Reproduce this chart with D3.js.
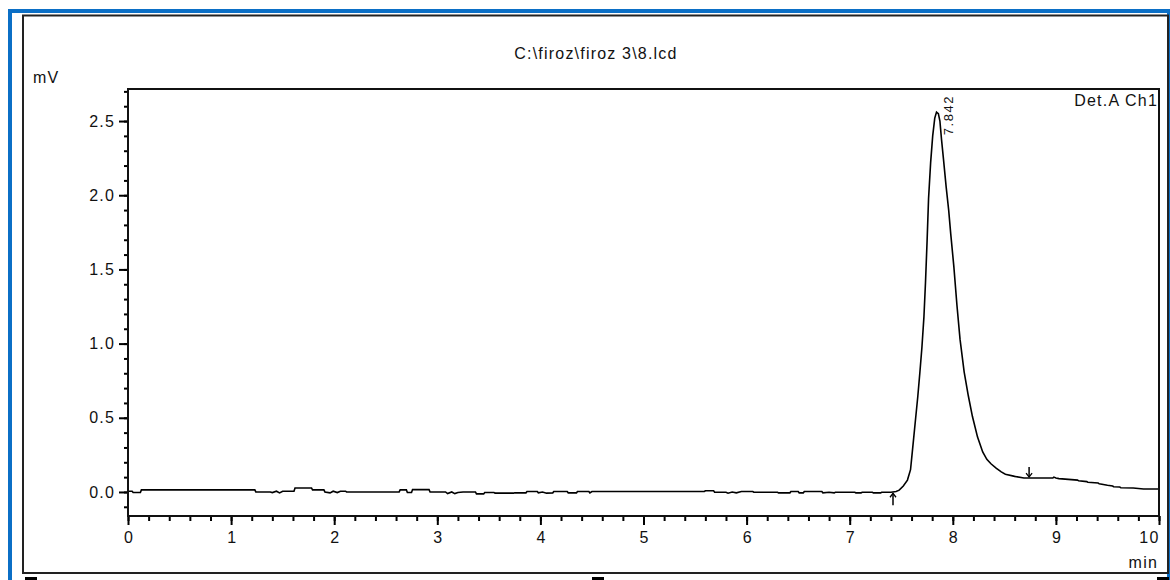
<!DOCTYPE html>
<html>
<head>
<meta charset="utf-8">
<script src="https://cdn.jsdelivr.net/npm/d3@7"></script>
<style>
  body { margin: 0; background: #fff; }
  text { font-family: "Liberation Sans", Arial, sans-serif; fill: #111; }
</style>
</head>
<body>
<script>

// chromatogram trace, time in min, signal in mV
var times = [
    0.00, 0.04, 0.05, 0.12, 0.13, 1.23, 1.24, 1.38, 1.40, 1.44, 1.47, 1.50, 1.61, 1.62, 1.78, 1.79,
    1.90, 1.91, 1.96, 1.99, 2.03, 2.06, 2.11, 2.12, 2.63, 2.64, 2.70, 2.71, 2.75, 2.76, 2.92, 2.93,
    3.08, 3.10, 3.14, 3.17, 3.20, 3.25, 3.37, 3.38, 3.45, 3.46, 3.55, 3.56, 3.74, 3.75, 3.86, 3.87,
    3.97, 3.98, 4.02, 4.06, 4.12, 4.13, 4.26, 4.27, 4.35, 4.36, 4.47, 4.48, 4.50, 5.59, 5.60, 5.68,
    5.69, 5.80, 5.82, 5.86, 5.90, 5.95, 6.06, 6.07, 6.30, 6.31, 6.42, 6.43, 6.50, 6.51, 6.55, 6.56,
    6.73, 6.74, 6.80, 6.85, 6.86, 7.05, 7.06, 7.11, 7.12, 7.22, 7.23, 7.30, 7.31, 7.40, 7.45, 7.48,
    7.52, 7.56, 7.59, 7.60, 7.62, 7.64, 7.66, 7.68, 7.70, 7.72, 7.735, 7.75, 7.765, 7.785, 7.805, 7.825,
    7.842, 7.86, 7.875, 7.89, 7.91, 7.935, 7.96, 7.98, 8.01, 8.04, 8.07, 8.11, 8.15, 8.19, 8.24, 8.29,
    8.33, 8.37, 8.42, 8.47, 8.51, 8.60, 8.69, 8.97, 8.98, 9.00, 9.03, 9.21, 9.22, 9.30, 9.31, 9.41,
    9.42, 9.50, 9.55, 9.56, 9.62, 9.63, 9.75, 9.85, 10.00
];
var signal = [
    0.005, 0.005, -0.004, -0.004, 0.014, 0.014, 0.000, 0.000, -0.004, 0.005, -0.006, 0.005, 0.005, 0.027, 0.027, 0.014,
    0.014, 0.000, -0.006, 0.005, -0.004, 0.005, 0.005, 0.000, 0.000, 0.014, 0.014, -0.004, -0.004, 0.016, 0.016, 0.000,
    0.000, -0.011, 0.000, -0.011, -0.004, 0.000, 0.000, -0.013, -0.013, -0.004, -0.004, -0.008, -0.008, -0.006, -0.006, 0.003,
    0.003, -0.006, 0.000, -0.008, -0.006, 0.003, 0.003, -0.006, -0.006, 0.003, 0.003, -0.006, 0.003, 0.003, 0.008, 0.008,
    -0.002, -0.002, -0.008, 0.000, -0.006, 0.003, 0.003, -0.002, -0.002, -0.006, -0.006, 0.003, 0.003, -0.006, -0.006, 0.003,
    0.003, -0.006, -0.002, -0.006, -0.002, -0.002, -0.006, -0.006, -0.002, -0.002, -0.006, -0.006, -0.002, -0.002, 0.003, 0.012,
    0.04, 0.08, 0.15, 0.22, 0.36, 0.50, 0.64, 0.80, 0.97, 1.18, 1.41, 1.68, 1.98, 2.22, 2.40, 2.52,
    2.56, 2.55, 2.50, 2.38, 2.24, 2.06, 1.90, 1.74, 1.52, 1.26, 1.03, 0.81, 0.65, 0.51, 0.37, 0.27,
    0.22, 0.19, 0.16, 0.135, 0.12, 0.105, 0.094, 0.094, 0.10, 0.094, 0.09, 0.08, 0.075, 0.07, 0.065, 0.06,
    0.055, 0.045, 0.04, 0.035, 0.033, 0.028, 0.027, 0.02, 0.02
];

var xMajor = [0, 1, 2, 3, 4, 5, 6, 7, 8, 9, 10];
var yMajor = [0.0, 0.5, 1.0, 1.5, 2.0, 2.5];
var yLabels = ["0.0", "0.5", "1.0", "1.5", "2.0", "2.5"];

var peakTimes = [7.842];
var peakHeights = [2.56];
var peakLabels = ["7.842"];

// integration start / end marks
var markTimes = [7.42, 8.74];
var markValues = [-0.002, 0.094];
var markDir = ["up", "down"];

var title = "C:\\firoz\\firoz 3\\8.lcd";

var width = 1170, height = 580;

var svg = d3.select("body").append("svg")
    .attr("width", width)
    .attr("height", height);

// window frame
svg.append("rect").attr("x", 8).attr("y", 9).attr("width", 1170).attr("height", 580).style("fill", "#0b6fc6");
svg.append("rect").attr("x", 12).attr("y", 13).attr("width", 1155).attr("height", 580).style("fill", "#fff");
svg.append("rect").attr("x", 23).attr("y", 15.5).attr("width", 1145).attr("height", 557.5)
    .style("fill", "none").style("stroke", "#222").style("stroke-width", 2);

svg.selectAll(".foot")
    .data([25, 592, 1157])
    .enter().append("rect")
    .attr("class", "foot")
    .attr("x", function (d) { return d })
    .attr("y", 577)
    .attr("width", 12)
    .attr("height", 4)
    .style("fill", "#000");

var x = d3.scaleLinear().domain([0, 10]).range([128, 1159]);
var y = d3.scaleLinear().domain([-0.162, 2.716]).range([516, 89]);

var xMinor = d3.range(0, 51).map(function (i) { return i * 0.2 });
var yMinor = d3.range(-1, 28).map(function (i) { return i * 0.1 });

// minor ticks
svg.append("g")
    .attr("transform", "translate(0,516)")
    .call(d3.axisBottom(x).tickValues(xMinor).tickSize(5).tickFormat(""))
    .call(function (g) { g.select(".domain").remove() })
    .selectAll("line").style("stroke-width", 2);

svg.append("g")
    .attr("transform", "translate(128,0)")
    .call(d3.axisLeft(y).tickValues(yMinor).tickSize(4).tickFormat(""))
    .call(function (g) { g.select(".domain").remove() })
    .selectAll("line").style("stroke-width", 2);

// major ticks + labels
var xAxis = svg.append("g")
    .attr("transform", "translate(0,516)")
    .call(d3.axisBottom(x).tickValues(xMajor).tickSize(9).tickPadding(7).tickFormat(d3.format("d")));
xAxis.select(".domain").remove();
xAxis.selectAll("line").style("stroke-width", 2);
xAxis.selectAll("text")
    .style("font-size", "16px")
    .style("letter-spacing", "1.2px")
    .attr("dx", "0.6px")
    .attr("fill", "#111");
// last label sits inside the frame
xAxis.selectAll("text")
    .filter(function (d) { return d == 10 })
    .attr("text-anchor", "end")
    .attr("dx", "0px");

var yAxis = svg.append("g")
    .attr("transform", "translate(128,0)")
    .call(d3.axisLeft(y).tickValues(yMajor).tickSize(9).tickPadding(4)
        .tickFormat(function (d, i) { return yLabels[i] }));
yAxis.select(".domain").remove();
yAxis.selectAll("line").style("stroke-width", 2);
yAxis.selectAll("text")
    .style("font-size", "16px")
    .style("letter-spacing", "1.2px")
    .attr("fill", "#111");

// plot frame
svg.append("rect")
    .attr("x", x(0)).attr("y", y(2.716))
    .attr("width", x(10) - x(0)).attr("height", y(-0.162) - y(2.716))
    .style("fill", "none").style("stroke", "#111").style("stroke-width", 2);

svg.append("clipPath").attr("id", "plotClip")
    .append("rect")
    .attr("x", x(0) + 1).attr("y", y(2.716) + 1)
    .attr("width", x(10) - x(0) - 2).attr("height", y(-0.162) - y(2.716) - 2);

var line = d3.line()
    .x(function (d, i) { return x(times[i]) })
    .y(function (d) { return y(d) });

svg.append("path")
    .datum(signal)
    .attr("clip-path", "url(#plotClip)")
    .attr("d", line)
    .style("fill", "none")
    .style("stroke", "#000")
    .style("stroke-width", 1.6)
    .style("stroke-linejoin", "miter");

// integration marks
var marks = svg.selectAll(".mark")
    .data(markTimes)
    .enter().append("g")
    .attr("class", "mark")
    .attr("transform", function (d, i) {
        return "translate(" + x(d) + "," + y(markValues[i]) + ")";
    });

marks.append("line")
    .attr("x1", 0).attr("x2", 0)
    .attr("y1", function (d, i) { return markDir[i] == "up" ? 1 : -1 })
    .attr("y2", function (d, i) { return markDir[i] == "up" ? 13 : -11 })
    .style("stroke", "#000").style("stroke-width", 1.5);

marks.append("path")
    .attr("d", function (d, i) {
        return markDir[i] == "up" ? "M-3,5 L0,1 L3,5" : "M-3,-5 L0,-1 L3,-5";
    })
    .style("fill", "none").style("stroke", "#000").style("stroke-width", 1.3);

// peak label, rotated
svg.selectAll(".peakLabel")
    .data(peakTimes)
    .enter().append("text")
    .attr("class", "peakLabel")
    .attr("transform", function (d, i) {
        return "translate(" + (x(d) + 16) + "," + (y(peakHeights[i]) + 23) + ") rotate(-90)";
    })
    .style("font-size", "13px")
    .style("letter-spacing", "1.5px")
    .text(function (d, i) { return peakLabels[i] });

// texts
svg.append("text")
    .attr("x", 596).attr("y", 59)
    .attr("text-anchor", "middle")
    .style("font-size", "16px")
    .style("letter-spacing", "1.2px")
    .text(title);

svg.append("text")
    .attr("x", 33).attr("y", 83)
    .style("font-size", "16px")
    .style("letter-spacing", "1.2px")
    .text("mV");

svg.append("text")
    .attr("x", 1158).attr("y", 106)
    .attr("text-anchor", "end")
    .style("font-size", "16px")
    .style("letter-spacing", "1.2px")
    .text("Det.A Ch1");

svg.append("text")
    .attr("x", 1158).attr("y", 568)
    .attr("text-anchor", "end")
    .style("font-size", "16px")
    .style("letter-spacing", "1.2px")
    .text("min");

</script>
</body>
</html>
